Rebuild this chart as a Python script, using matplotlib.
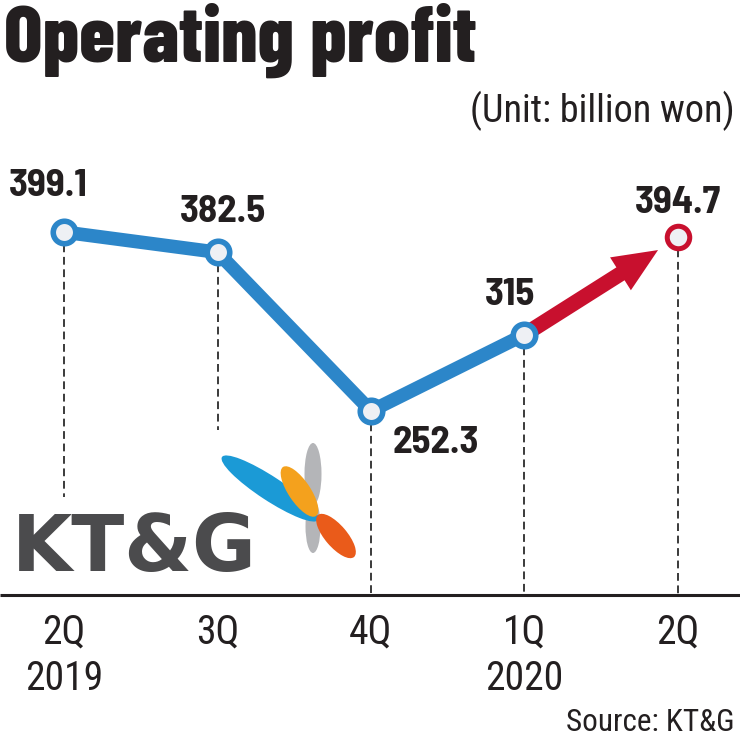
import matplotlib
matplotlib.use("Agg")
import matplotlib.pyplot as plt
import numpy as np
from matplotlib.patches import Ellipse
from matplotlib import transforms

# data
quarters = ["2Q", "3Q", "4Q", "1Q", "2Q"]
years = ["2019", "", "", "2020", ""]
profit = [399.1, 382.5, 252.3, 315, 394.7]
value_labels = ["399.1", "382.5", "252.3", "315", "394.7"]

# label offsets in pixels (dx, dy) from each point to the label baseline
label_offsets = [(-16, 36), (5, 30), (65, -42), (-14, 30), (0, 24)]

BLUE = "#2c86c9"
RED = "#c8102e"
INK = "#231f20"
FILL = "#eef0f4"
TITLE_FONT = ["Barlow Condensed", "DejaVu Sans"]
VALUE_FONT = ["Barlow Semi Condensed", "DejaVu Sans"]
TEXT_FONT = ["Roboto Condensed", "DejaVu Sans"]

W, H = 740, 738
fig = plt.figure(figsize=(W / 100, H / 100), dpi=100)
fig.patch.set_facecolor("white")

ax = fig.add_axes([0, 0, 1, 1])
ax.set_xlim(-0.417, 4.404)
ax.set_ylim(-16, 589.5)
ax.axis("off")

x = np.arange(len(profit))
base_y = 100.5
dash_stop = [181.8, 236.7, base_y, base_y, base_y]

# dashed drop lines
for xi, yi, stop in zip(x, profit, dash_stop):
    ax.plot([xi, xi], [yi, stop], color="#3a3a3a", lw=1.4,
            linestyle=(0, (4, 2.4)), zorder=1)

# baseline
ax.plot([0, 1], [1 - 595 / H] * 2, transform=ax.transAxes,
        color=INK, lw=2.2, solid_capstyle="butt", zorder=2)

# blue line for the first four quarters
ax.plot(x[:4], profit[:4], color=BLUE, lw=9.8, solid_capstyle="round",
        solid_joinstyle="round", zorder=3)

# red arrow to the last quarter
ax.annotate("", xy=(x[4], profit[4]), xytext=(x[3], profit[3]),
            arrowprops=dict(arrowstyle="simple,head_length=3.2,head_width=2.8,tail_width=1.1",
                            color=RED, shrinkA=0, shrinkB=17, mutation_scale=10,
                            lw=0),
            zorder=3)

ax.plot(x[:4], profit[:4], "o", ms=16.2, mew=4, mec=BLUE, mfc=FILL, zorder=5)
ax.plot(x[4], profit[4], "o", ms=16.2, mew=3.6, mec=RED, mfc=FILL, zorder=5)

for xi, yi, lab, (dx, dy) in zip(x, profit, value_labels, label_offsets):
    ax.annotate(lab, (xi, yi), xytext=(dx, dy), textcoords="offset pixels",
                ha="center", va="baseline", fontsize=28, fontweight=700,
                family=VALUE_FONT, color=INK, zorder=6)

# category labels under the baseline
tr = transforms.blended_transform_factory(ax.transData, ax.transAxes)
for xi, q, yr in zip(x, quarters, years):
    ax.text(xi, 1 - 643 / H, q, transform=tr, ha="center", va="baseline",
            fontsize=28.5, family=TEXT_FONT, color=INK)
    if yr:
        ax.text(xi, 1 - 690 / H, yr, transform=tr, ha="center", va="baseline",
                fontsize=28.5, family=TEXT_FONT, color=INK)

# titles
fig.text(4 / W, 1 - 62 / H, "Operating profit", ha="left", va="baseline",
         fontsize=58, fontweight=800, family=TITLE_FONT, color=INK)
fig.text(735 / W, 1 - 122 / H, "(Unit: billion won)", ha="right", va="baseline",
         fontsize=27.5, family=TEXT_FONT, color=INK)
fig.text(735 / W, 1 - 731 / H, "Source: KT&G", ha="right", va="baseline",
         fontsize=22.5, family=TEXT_FONT, color=INK)

# company logo, drawn in pixel space
lg = fig.add_axes([0, 0, 1, 1], zorder=-1)
lg.set_xlim(0, W)
lg.set_ylim(H, 0)
lg.axis("off")
lg.text(12, 571, "KT&G", ha="left", va="baseline", fontsize=56,
        fontweight="bold", family="DejaVu Sans", color="#4b4b4d")


def petal(p0, p1, width, color):
    (x0, y0), (x1, y1) = p0, p1
    length = np.hypot(x1 - x0, y1 - y0)
    ang = np.degrees(np.arctan2(y1 - y0, x1 - x0))
    lg.add_patch(Ellipse(((x0 + x1) / 2, (y0 + y1) / 2), length, width,
                         angle=ang, color=color, lw=0))


petal((313, 443), (313, 505), 17, "#b4b5b8")
petal((313, 500), (313, 553), 15, "#b4b5b8")
petal((222, 457), (318, 520), 24, "#1b9ad6")
petal((283, 467), (316, 516), 22, "#f4a11d")
petal((318, 515), (354, 557), 22, "#ea5b1a")

fig.savefig("out.png", dpi=100, facecolor="white")
